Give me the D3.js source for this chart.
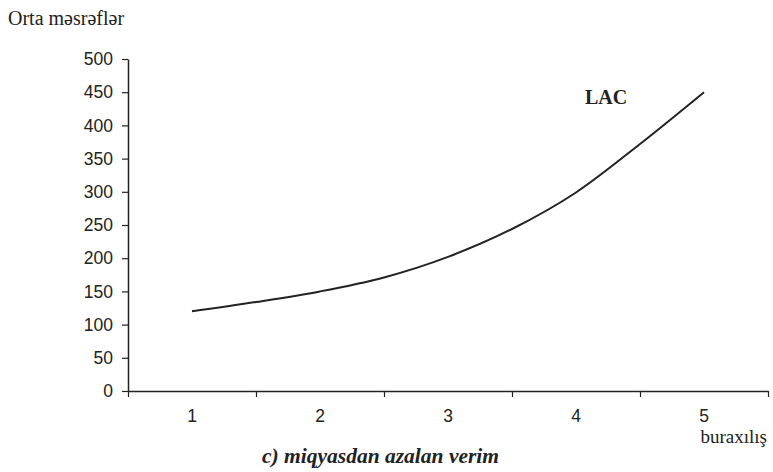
<!DOCTYPE html>
<html><head><meta charset="utf-8">
<script src="https://cdn.jsdelivr.net/npm/d3@7"></script>
<style>body{margin:0;background:#fff}</style>
</head><body>
<svg id="c" width="773" height="472"></svg>
<script>
const categories = [1, 2, 3, 4, 5];
const outputs = [1, 1.5, 2, 2.5, 3, 3.5, 4, 4.5, 5];
const lacValues = [120, 134, 150, 171, 202, 244, 299, 372, 450];
const yTicks = [0, 50, 100, 150, 200, 250, 300, 350, 400, 450, 500];

const SERIF = "'Liberation Serif', 'Times New Roman', serif";
const SANS = "'Liberation Sans', Arial, sans-serif";

const svg = d3.select("#c");
const x0 = 128, x1 = 768, yTop = 59, yBot = 391;
const xBand = d3.scaleBand().domain(categories).range([x0, x1]).padding(0);
const x = d3.scaleLinear().domain([0.5, 5.5]).range([x0, x1]);
const y = d3.scaleLinear().domain([0, 500]).range([yBot, yTop]);

// y axis
const ya = svg.append("g").attr("transform", `translate(${x0},0)`)
  .call(d3.axisLeft(y).tickValues(yTicks).tickSize(6).tickPadding(9).tickSizeOuter(0));
ya.select(".domain").attr("stroke", "#222").attr("stroke-width", 1.5);
ya.selectAll(".tick line").attr("stroke", "#222").attr("stroke-width", 1.2);
ya.selectAll(".tick text").style("font-family", SANS).style("font-size", "17.5px").attr("fill", "#222");

// x axis: boundary ticks
const xa = svg.append("g").attr("transform", `translate(0,${yBot})`)
  .call(d3.axisBottom(x).tickValues([0.5,1.5,2.5,3.5,4.5,5.5]).tickSize(6).tickFormat("").tickSizeOuter(0));
xa.select(".domain").attr("stroke", "#222").attr("stroke-width", 1.5);
xa.selectAll(".tick line").attr("stroke", "#222").attr("stroke-width", 1.2);
// category labels
const xl = svg.append("g").attr("transform", `translate(0,${yBot})`)
  .call(d3.axisBottom(xBand).tickSize(0).tickPadding(19));
xl.select(".domain").remove();
xl.selectAll(".tick text").style("font-family", SANS).style("font-size", "17.5px").attr("fill", "#222");

// line
const line = d3.line().x((d,i) => x(outputs[i])).y(d => y(d)).curve(d3.curveMonotoneX);
svg.append("path").datum(lacValues).attr("d", line)
  .attr("fill", "none").attr("stroke", "#222").attr("stroke-width", 2);

// texts
svg.append("text").attr("x", 8).attr("y", 25).text("Orta məsrəflər")
  .style("font-family", SERIF).style("font-size", "20px").attr("fill", "#222");
svg.append("text").attr("x", 585).attr("y", 104).text("LAC")
  .style("font-family", SERIF).style("font-weight", "bold").style("font-size", "20px").attr("fill", "#222");
svg.append("text").attr("x", 767).attr("y", 443).attr("text-anchor", "end").text("buraxılış")
  .style("font-family", SERIF).style("font-size", "19px").attr("fill", "#222");
svg.append("text").attr("x", 380.5).attr("y", 463).attr("text-anchor", "middle").text("c) miqyasdan azalan verim")
  .style("font-family", SERIF).style("font-weight", "bold").style("font-style", "italic")
  .style("font-size", "21.5px").attr("fill", "#222");
</script>
</body></html>
